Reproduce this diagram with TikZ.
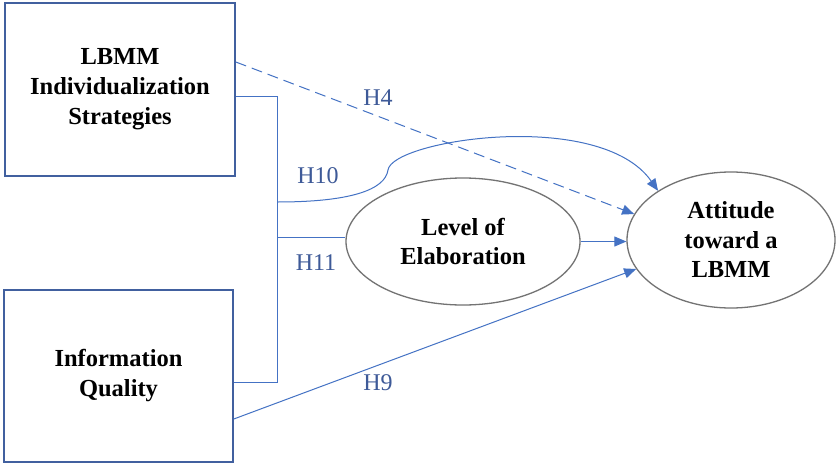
\documentclass[tikz,border=0pt]{standalone}
\usepackage{fontspec}
\setmainfont{Liberation Serif}
\usetikzlibrary{shapes.geometric,arrows.meta,calc}
\definecolor{boxblue}{HTML}{41609F}
\definecolor{lineblue}{HTML}{4472C4}
\definecolor{lblblue}{HTML}{3E5A98}
\definecolor{ellgray}{HTML}{737373}
\begin{document}
\begin{tikzpicture}[x=1pt,y=-1pt,
  boxnode/.style={draw=boxblue,line width=1.6pt,rectangle,align=center,
    font=\fontsize{24.5}{30}\selectfont\bfseries,inner sep=0pt},
  ellnode/.style={draw=ellgray,line width=1.3pt,ellipse,align=center,
    font=\fontsize{24.5}{29.5}\selectfont\bfseries,inner sep=0pt},
  conn/.style={draw=lineblue,line width=1pt},
  arr/.style={conn,-{Triangle[length=12pt,width=10pt]}},
  hlbl/.style={text=lblblue,font=\fontsize{24}{28}\selectfont,inner sep=0pt}]
\path[fill=white] (0,0) rectangle (837,463);
\node[boxnode,minimum width=230,minimum height=173] (box1) at (120,89.5)
  {\raisebox{-4pt}{\parbox{200pt}{\centering LBMM\\Individualization\\Strategies}}};
\node[boxnode,minimum width=229,minimum height=172] (box2) at (118.5,376)
  {Information\\Quality};
\node[ellnode,minimum width=234,minimum height=127] (ell1) at (463,241.5)
  {Level of\\Elaboration};
\node[ellnode,minimum width=208,minimum height=136] (ell2) at (731,240)
  {Attitude\\toward a\\LBMM};
% bracket
\coordinate (bt) at (277,96);
\coordinate (bb) at (277,382);
\draw[conn] (box1.east |- bt) -- (bt) -- (bb) -- (box2.east |- bb);
% H11
\coordinate (h11s) at (277,237);
\draw[conn] (h11s) -- (ell1.west |- h11s);
% H10
\coordinate (h10s) at (277,202);
\draw[arr] (h10s) .. controls (350,202) and (385,190) .. (388,170)
  .. controls (392,140) and (600,108) .. (ell2.146);
% H4 dashed
\coordinate (h4s) at (236,62);
\draw[arr,dash pattern=on 11pt off 6pt] (box1.east |- h4s) -- (ell2.165);
% H9
\coordinate (h9s) at (233,419);
\draw[arr] (box2.east |- h9s) -- (ell2.197);
% Level -> Attitude
\draw[arr] (ell1.east) -- (ell1.east -| ell2.west);
% labels
\node[hlbl] (l4) at (378,98) {H4};
\node[hlbl] (l10) at (318,176) {H10};
\node[hlbl] (l11) at (316,263) {H11};
\node[hlbl] (l9) at (378,383) {H9};
\end{tikzpicture}
\end{document}
